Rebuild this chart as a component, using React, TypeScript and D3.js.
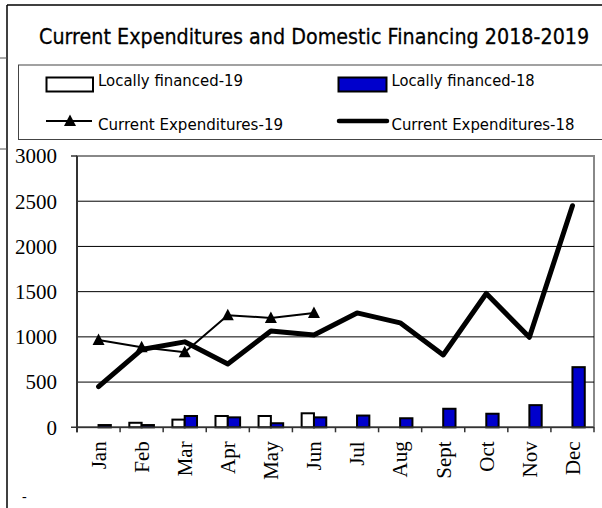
import React, { useLayoutEffect, useRef, useState } from "react";
import * as d3 from "d3";

const months = ["Jan", "Feb", "Mar", "Apr", "May", "Jun", "Jul", "Aug", "Sept", "Oct", "Nov", "Dec"];
const localFin19: (number | null)[] = [null, 50, 85, 125, 125, 155, null, null, null, null, null, null];
const localFin18: number[] = [25, 25, 125, 110, 45, 110, 130, 100, 205, 150, 245, 665];
const curExp19: number[] = [965, 885, 830, 1240, 1210, 1265];
const curExp18: number[] = [450, 860, 945, 700, 1065, 1020, 1265, 1155, 800, 1480, 995, 2450];
const yTicks = [0, 500, 1000, 1500, 2000, 2500, 3000];

const title = "Current Expenditures and Domestic Financing 2018-2019";
const legendLabels = ["Locally financed-19", "Locally financed-18", "Current Expenditures-19", "Current Expenditures-18"];

const BLUE = "#0000cc";
const SANS = "'DejaVu Sans', Verdana, sans-serif";
const SERIF = "'Liberation Serif', 'Times New Roman', serif";

const tri = "M0,-6.5 L6,5 L-6,5 Z";

function FitText(props: { x: number; y: number; width: number; size: number; text: string; extra?: any }) {
  const ref = useRef<SVGTextElement>(null);
  const [sx, setSx] = useState(0.85);
  useLayoutEffect(() => {
    if (ref.current) {
      const len = ref.current.getComputedTextLength();
      if (len > 0) setSx(props.width / len);
    }
  }, [props.text, props.width]);
  return (
    <text
      ref={ref}
      transform={`translate(${props.x},${props.y}) scale(${sx},1)`}
      fontFamily={SANS}
      fontSize={props.size}
      fill="#000"
      {...(props.extra || {})}
    >
      {props.text}
    </text>
  );
}

export default function App() {
  const left = 77, right = 594, top = 156, bottom = 427.3;
  const x = d3.scaleBand<string>().domain(months).range([left, right]).paddingInner(0).paddingOuter(0);
  const y = d3.scaleLinear().domain([0, 3000]).range([bottom, top]);
  const bw = x.bandwidth() / 3.5;
  const cx = (m: string) => (x(m) as number) + x.bandwidth() / 2;

  const line18 = d3.line<number>().x((_, i) => cx(months[i])).y((d) => y(d));
  const line19 = d3.line<number>().x((_, i) => cx(months[i])).y((d) => y(d));

  return (
    <svg width={602} height={508} style={{ position: "absolute", left: 0, top: 0, background: "#fff" }}>
      {/* outer frame */}
      <line x1={7} y1={5} x2={602} y2={5} stroke="#000" strokeWidth={1.5} />
      <line x1={7} y1={5} x2={7} y2={508} stroke="#000" strokeWidth={1.5} />
      <line x1={0} y1={58} x2={7} y2={58} stroke="#555" strokeWidth={1} />
      <line x1={0} y1={149} x2={7} y2={149} stroke="#555" strokeWidth={1} />
      <text x={22} y={501} fontFamily={SERIF} fontSize={14} fill="#000">-</text>

      {/* title */}
      <FitText x={39} y={44} width={550} size={21} text={title} extra={{ stroke: "#000", strokeWidth: 0.3 }} />

      {/* legend */}
      <rect x={18.5} y={65} width={600} height={74.5} fill="#fff" stroke="#444" strokeWidth={1} />
      <rect x={46.5} y={77.5} width={46.5} height={14} fill="#fff" stroke="#000" strokeWidth={2} />
      <FitText x={98} y={85.5} width={145} size={15} text={legendLabels[0]} />
      <rect x={338.5} y={77.5} width={48} height={14} fill={BLUE} stroke="#000" strokeWidth={2} />
      <FitText x={391.5} y={85.5} width={143} size={15} text={legendLabels[1]} />
      <line x1={46} y1={121} x2={92} y2={121} stroke="#000" strokeWidth={2} />
      <path d={tri} transform="translate(70,121)" fill="#000" />
      <FitText x={98} y={129.5} width={185} size={15} text={legendLabels[2]} />
      <line x1={339} y1={121} x2={387} y2={121} stroke="#000" strokeWidth={4.5} strokeLinecap="round" />
      <FitText x={391.5} y={129.5} width={183} size={15} text={legendLabels[3]} />

      {/* plot area */}
      <rect x={left} y={top} width={right - left} height={bottom - top} fill="#fff" stroke="#888" strokeWidth={2} />
      {yTicks.filter((t) => t > 0 && t < 3000).map((t) => (
        <line key={t} x1={left} x2={right} y1={y(t)} y2={y(t)} stroke="#000" strokeWidth={1} />
      ))}

      {/* bars */}
      {months.map((m, i) => {
        const v19 = localFin19[i];
        const v18 = localFin18[i];
        const c = cx(m);
        return (
          <g key={m}>
            {v19 != null && (
              <rect x={c - bw} y={y(v19)} width={bw} height={y(0) - y(v19)} fill="#fff" stroke="#000" strokeWidth={2} />
            )}
            <rect x={c} y={y(v18)} width={bw} height={y(0) - y(v18)} fill={BLUE} stroke="#000" strokeWidth={2} />
          </g>
        );
      })}

      {/* axes */}
      <line x1={left} x2={left} y1={top} y2={bottom + 5} stroke="#333" strokeWidth={2} />
      <line x1={left - 6} x2={right} y1={bottom} y2={bottom} stroke="#333" strokeWidth={1.5} />
      <line x1={left - 6} x2={left} y1={top} y2={top} stroke="#333" strokeWidth={1.5} />
      {months.concat(["end"]).map((m, i) => {
        const xx = i < months.length ? (x(m) as number) : right;
        return <line key={"t" + i} x1={xx} x2={xx} y1={bottom} y2={bottom + 5} stroke="#333" strokeWidth={1.5} />;
      })}
      {yTicks.map((t) => (
        <text key={"yl" + t} x={57} y={y(t)} dy="0.35em" textAnchor="end" fontFamily={SERIF} fontSize={21} fill="#000">
          {t}
        </text>
      ))}
      {months.map((m) => (
        <text
          key={"xl" + m}
          transform={`translate(${cx(m)},${bottom + 14}) rotate(-90)`}
          dy="0.35em"
          textAnchor="end"
          fontFamily={SERIF}
          fontSize={21}
          fill="#000"
        >
          {m}
        </text>
      ))}

      {/* lines */}
      <path d={line18(curExp18) as string} fill="none" stroke="#000" strokeWidth={5} strokeLinejoin="round" strokeLinecap="round" />
      <path d={line19(curExp19) as string} fill="none" stroke="#000" strokeWidth={2} />
      {curExp19.map((v, i) => (
        <path key={"m" + i} d={tri} transform={`translate(${cx(months[i])},${y(v)})`} fill="#000" />
      ))}
    </svg>
  );
}
